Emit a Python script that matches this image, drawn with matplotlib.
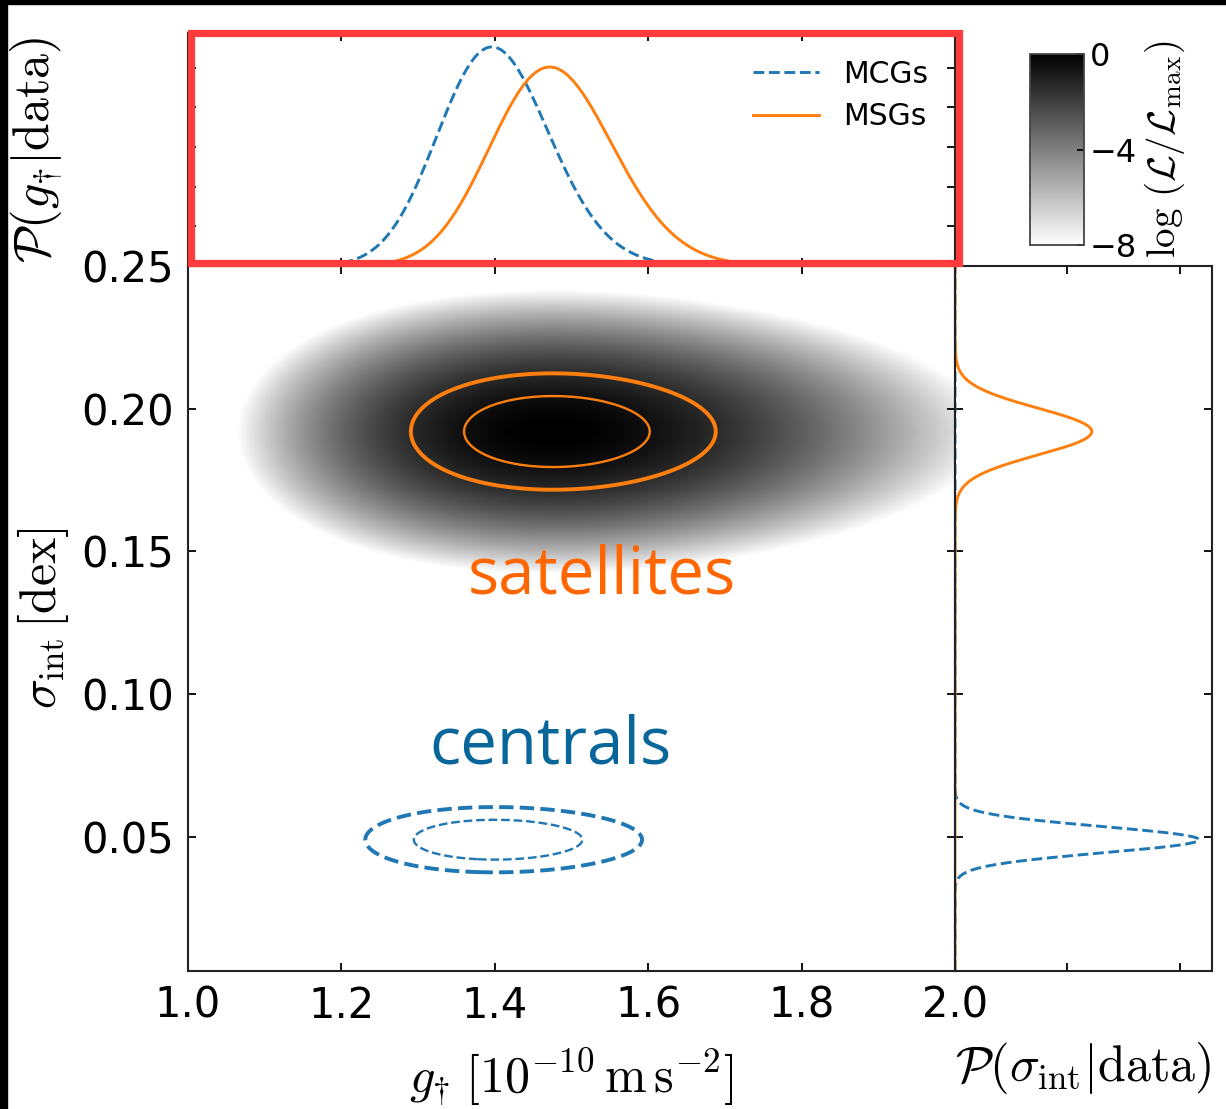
import numpy as np
import matplotlib
matplotlib.use("Agg")
import matplotlib.pyplot as plt
from matplotlib.patches import Rectangle

plt.rcParams['mathtext.fontset'] = 'cm'
plt.rcParams['font.family'] = ['DejaVu Sans']

# ---------------- data ----------------
groups = ["MCGs", "MSGs"]                 # centrals, satellites
g_peak = [1.400, 1.476]                   # best-fit g_dagger [1e-10 m s^-2]
lng_width = [0.0517, 0.0540]              # 1-sigma width in ln(g_dagger)
sig_peak = [0.049, 0.192]                 # best-fit sigma_int [dex]
sig_width = [0.0046, 0.0082]              # 1-sigma width of sigma_int [dex]
contour_levels = [2.30, 6.18]             # Delta chi^2 for 68% / 95% (2 params)
cbar_ticks = [0, -4, -8]
xticks_main = [1.0, 1.2, 1.4, 1.6, 1.8, 2.0]
yticks_main = [0.05, 0.10, 0.15, 0.20, 0.25]
annot_text = ["centrals", "satellites"]

colors = ['#1f77b4', '#ff7f0e']
styles = ['--', '-']
text_colors = ['#08669b', '#ff6600']

W, H = 1226, 1109
fig = plt.figure(figsize=(W / 100, H / 100), dpi=100)
fig.patch.set_facecolor('white')


def px(l, t, r, b):
    return [l / W, 1 - b / H, (r - l) / W, (b - t) / H]


ax = fig.add_axes(px(188, 266, 955, 971))
axt = fig.add_axes(px(188, 33, 955, 266))
axr = fig.add_axes(px(955, 266, 1212, 971))
cax = fig.add_axes(px(1030, 54, 1084, 245))

xmin, xmax = 1.0, 2.0
ymin, ymax = 0.003, 0.25

gg = np.linspace(xmin, xmax, 700)
ss = np.linspace(ymin, ymax, 600)
G, S = np.meshgrid(gg, ss)

chi2 = []
for k in range(2):
    c = ((np.log(G) - np.log(g_peak[k])) / lng_width[k]) ** 2 + ((S - sig_peak[k]) / sig_width[k]) ** 2
    chi2.append(c)

# likelihood map of the satellites (MSGs)
log10L = -0.5 * chi2[1] / np.log(10)
im = ax.imshow(log10L, extent=[xmin, xmax, ymin, ymax], origin='lower', aspect='auto',
               cmap='gray_r', vmin=-8, vmax=0, interpolation='bilinear', zorder=0)

for k in range(2):
    ls = 'dashed' if k == 0 else 'solid'
    ax.contour(G, S, chi2[k], levels=contour_levels, colors=colors[k],
               linewidths=[1.7, 2.8], linestyles=ls, zorder=2)

ax.set_xlim(xmin, xmax)
ax.set_ylim(ymin, ymax)
ax.set_xticks(xticks_main)
ax.set_xticklabels([f"{v:.1f}" for v in xticks_main])
ax.set_yticks(yticks_main)
ax.set_yticklabels([f"{v:.2f}" for v in yticks_main])
ax.tick_params(direction='in', top=True, right=True, length=6, width=1.3,
               labelsize=30, pad=10)
ax.set_xlabel(r'$g_{\dagger}\;[10^{-10}\,\mathrm{m\,s^{-2}}]$', fontsize=36, labelpad=14)
ax.set_ylabel(r'$\sigma_{\rm int}\,[\mathrm{dex}]$', fontsize=36)
ax.yaxis.set_label_coords(-0.152, 0.5)

# ---- top marginal ----
gf = np.linspace(xmin, xmax, 1000)
for k in range(2):
    pg = np.exp(-0.5 * ((np.log(gf) - np.log(g_peak[k])) / lng_width[k]) ** 2) / (
        gf * lng_width[k] * np.sqrt(2 * np.pi))
    axt.plot(gf, pg, ls=styles[k], color=colors[k], lw=2.1, label=groups[k])
axt.set_xlim(xmin, xmax)
axt.set_ylim(0, 5.87)
axt.set_xticks(xticks_main)
axt.set_yticks([1, 2, 3, 4, 5])
axt.tick_params(direction='in', top=True, right=True, left=True, bottom=True,
                labelbottom=False, labelleft=False, length=6, width=1.3)
axt.set_ylabel(r'$\mathcal{P}(g_{\dagger}|\mathrm{data})$', fontsize=36)
axt.yaxis.set_label_coords(-0.16, 0.5)
axt.legend(loc='upper right', frameon=False, fontsize=21.5, handlelength=2.2,
           handletextpad=0.8, labelspacing=0.45)

# ---- right marginal ----
sf = np.linspace(ymin, ymax, 1200)
for k in range(2):
    ps = np.exp(-0.5 * ((sf - sig_peak[k]) / sig_width[k]) ** 2) / (sig_width[k] * np.sqrt(2 * np.pi))
    axr.plot(ps, sf, ls=styles[k], color=colors[k], lw=2.1)
axr.set_ylim(ymin, ymax)
axr.set_xlim(0, 91.4)
axr.set_xticks([0, 40, 80])
axr.set_yticks(yticks_main)
axr.tick_params(direction='in', top=True, right=True, left=True, bottom=True,
                labelbottom=False, labelleft=False, length=6, width=1.3)
axr.set_xlabel(r'$\mathcal{P}(\sigma_{\rm int}|\mathrm{data})$', fontsize=36, labelpad=50)

for a in (ax, axt, axr):
    for sp in a.spines.values():
        sp.set_linewidth(1.5)
        sp.set_color('#222222')

# ---- colorbar ----
cb = fig.colorbar(im, cax=cax, ticks=cbar_ticks)
cb.outline.set_linewidth(1.3)
cb.outline.set_edgecolor('#444444')
cax.tick_params(direction='in', length=5, width=1.3, labelsize=23, pad=4)
cb.set_label(r'$\log\,(\mathcal{L}/\mathcal{L}_{\rm max})$', fontsize=28, labelpad=4)

# ---- overlay annotations ----
fig.text(550 / W, 1 - 763 / H, annot_text[0], ha='center', va='baseline', fontsize=47,
         color=text_colors[0], family='Open Sans')
fig.text(602 / W, 1 - 593 / H, annot_text[1], ha='center', va='baseline', fontsize=47,
         color=text_colors[1], family='Open Sans')

fig.patches.append(Rectangle((191 / W, 1 - 262.5 / H), (958.5 - 191) / W, (262.5 - 33) / H,
                             transform=fig.transFigure, fill=False, edgecolor='#ff3b3b',
                             lw=5.2, zorder=20))
fig.patches.append(Rectangle((0, 1 - 4 / H), 1, 4 / H, transform=fig.transFigure,
                             color='black', zorder=21))
fig.patches.append(Rectangle((0, 0), 7 / W, 1, transform=fig.transFigure,
                             color='black', zorder=21))

fig.savefig('out.png', dpi=100)
